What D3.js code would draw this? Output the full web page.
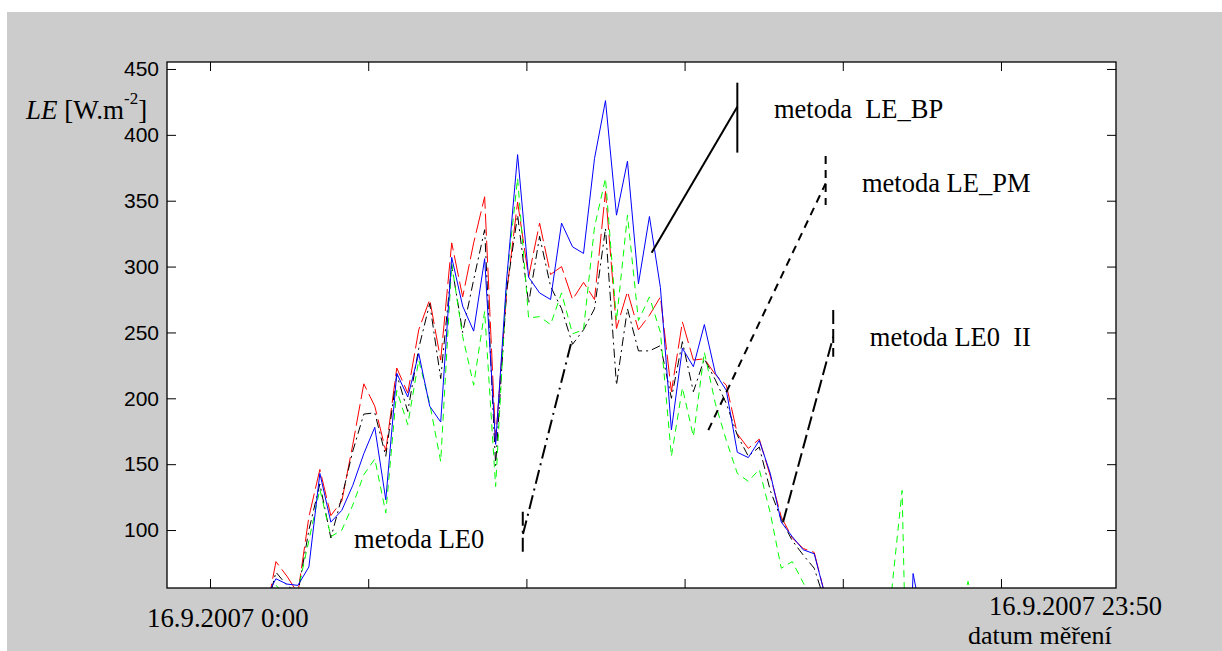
<!DOCTYPE html>
<html>
<head>
<meta charset="utf-8">
<script src="https://cdnjs.cloudflare.com/ajax/libs/d3/7.8.5/d3.min.js"></script>
<style>
  html, body { margin: 0; padding: 0; background: #fff; }
  svg { display: block; }
</style>
</head>
<body>
<div id="chart"></div>
<script>
// sample times, 16.9.2007 (20 min step)
const timeLabels = [
  "0:00","0:20","0:40","1:00","1:20","1:40","2:00","2:20","2:40","3:00","3:20","3:40",
  "4:00","4:20","4:40","5:00","5:20","5:40","6:00","6:20","6:40","7:00","7:20","7:40",
  "8:00","8:20","8:40","9:00","9:20","9:40","10:00","10:20","10:40","11:00","11:20","11:40",
  "12:00","12:20","12:40","13:00","13:20","13:40","14:00","14:20","14:40","15:00","15:20","15:40",
  "16:00","16:20","16:40","17:00","17:20","17:40","18:00","18:20","18:40","19:00","19:20","19:40",
  "20:00","20:20","20:40","21:00","21:20","21:40","22:00","22:20","22:40","23:00","23:20","23:40"
];

// LE [W.m-2] per method
const leBP = [
  30, 25, 20, 28, 35, 47, 63, 59, 58, 72, 143, 106,
  115, 134, 158, 178, 123, 219, 201, 234, 194, 182, 307, 270,
  251, 306, 165, 290, 385, 292, 280, 275, 333, 315, 310, 382,
  426, 339, 380, 287, 338, 284, 176, 238, 224, 256, 219, 206,
  159, 155, 168, 143, 106, 95, 85, 82, 50, 40, 30, 25,
  20, 15, 10, -150, 67, 24, 20, 15, 10, 10, 8, 5
];
const lePM = [
  20, 18, 15, 20, 30, 40, 58, 50, 54, 92, 131, 95,
  100, 119, 142, 154, 113, 206, 180, 229, 196, 152, 302, 247,
  210, 266, 133, 290, 367, 261, 262, 256, 280, 249, 252, 330,
  367, 259, 339, 259, 277, 250, 156, 208, 171, 235, 196, 168,
  143, 137, 146, 113, 71, 76, 60, 45, 35, 30, 25, 20,
  15, 10, 50, 130, -250, 10, 10, 15, 20, 61, 20, 15
];
const le0 = [
  18, 15, 12, 20, 28, 35, 68, 58, 52, 100, 135, 94,
  125, 160, 188, 189, 156, 218, 190, 238, 272, 215, 301, 250,
  290, 328, 149, 282, 339, 272, 323, 285, 268, 241, 252, 268,
  329, 210, 268, 236, 236, 240, 200, 243, 205, 230, 214, 196,
  172, 156, 163, 130, 108, 92, 81, 71, 45, 35, 28, 22,
  18, 15, 12, 10, 10, 12, 15, 12, 10, 8, 6, 5
];
const le0II = [
  15, 10, 12, 18, 25, 32, 76, 65, 52, 110, 146, 111,
  122, 165, 211, 194, 160, 223, 204, 252, 275, 229, 318, 277,
  318, 353, 168, 280, 349, 292, 333, 294, 300, 275, 288, 275,
  357, 253, 281, 252, 263, 277, 205, 258, 229, 230, 218, 210,
  173, 162, 169, 141, 110, 94, 86, 83, 50, 40, 30, 25,
  20, 18, 15, 12, 10, 10, 12, 15, 12, 10, 8, 5
];

const yTicks = [100, 150, 200, 250, 300, 350, 400, 450];
const xTicks = [0, 4.8, 9.6, 14.4, 19.2, 24]; // hours

// callouts: [hour, LE] from the curve to the label, plus the end bar
const callouts = [
  { text: "metoda  LE_BP", from: [13.40, 310.5], to: [16.00, 421.4], bar: [439.6, 386.5], label: [17.11, 412.8], dash: null },
  { text: "metoda LE_PM", from: [15.12, 175.9], to: [18.68, 363.2], bar: [384.0, 346.7], label: [19.78, 356.8], dash: "8,6" },
  { text: "metoda LE0  II", from: [17.39, 106.3], to: [18.91, 246.7], bar: [267.0, 231.6], label: [20.02, 239.9], dash: "14,5" },
  { text: "metoda LE0", from: [10.95, 241.2], to: [9.49, 96.2], bar: [113.9, 79.7], label: [4.37, 86.6], dash: "14,5,2,5" }
];

function makeLineChart(elementToAttachTo) {
  //#region Shared variables
  const width = 1222, height = 651;
  const plot = { left: 167, top: 62, right: 1116, bottom: 588 };
  const serif = "'Liberation Serif', 'Times New Roman', serif";
  const sans = "'Liberation Sans', Arial, Helvetica, sans-serif";
  const svg = d3.select(elementToAttachTo).append("svg")
    .attr("width", width).attr("height", height);
  //#endregion

  // grey figure background
  svg.append("rect").attr("x", 7).attr("y", 12)
    .attr("width", width - 7).attr("height", height - 12).attr("fill", "#cccccc");
  svg.append("rect").attr("x", plot.left).attr("y", plot.top)
    .attr("width", plot.right - plot.left).attr("height", plot.bottom - plot.top)
    .attr("fill", "#ffffff");

  //#region Scales
  const parseTime = d3.timeParse("%H:%M");
  const hours = timeLabels.map(s => { const t = parseTime(s); return t.getHours() + t.getMinutes() / 60; });
  const x = d3.scaleLinear().domain([-1.305, 27.49]).range([plot.left, plot.right]);
  const y = d3.scaleLinear().domain([56, 455.3]).range([plot.bottom, plot.top]);
  //#endregion

  svg.append("clipPath").attr("id", "clip").append("rect")
    .attr("x", plot.left).attr("y", plot.top)
    .attr("width", plot.right - plot.left).attr("height", plot.bottom - plot.top);

  //#region Series
  const series = [
    { values: le0II, color: "#ff0000", dash: "22,5" },
    { values: le0, color: "#000000", dash: "9,4,2,4" },
    { values: lePM, color: "#00ff00", dash: "7,5" },
    { values: leBP, color: "#0000ff", dash: null }
  ];
  const line = d3.line().x(d => x(d[0])).y(d => y(d[1]));
  const g = svg.append("g").attr("clip-path", "url(#clip)");
  series.forEach(s => {
    g.append("path")
      .datum(hours.map((h, i) => [h, s.values[i]]))
      .attr("d", line)
      .attr("fill", "none")
      .attr("stroke", s.color)
      .attr("stroke-width", 1)
      .attr("stroke-dasharray", s.dash);
  });
  //#endregion

  //#region Axes (box with inward ticks)
  const tickLen = 9;
  const axes = svg.append("g");
  axes.append("g").attr("transform", `translate(${plot.left},0)`)
    .call(d3.axisLeft(y).tickValues(yTicks).tickSizeInner(-tickLen).tickSizeOuter(0).tickPadding(8))
    .call(a => a.selectAll("text").attr("font-family", sans).attr("font-size", 21).attr("fill", "#000"));
  axes.append("g").attr("transform", `translate(${plot.right},0)`)
    .call(d3.axisRight(y).tickValues(yTicks).tickSizeInner(-tickLen).tickSizeOuter(0).tickFormat(""));
  axes.append("g").attr("transform", `translate(0,${plot.bottom})`)
    .call(d3.axisBottom(x).tickValues(xTicks).tickSizeInner(-tickLen).tickSizeOuter(0).tickFormat(""));
  axes.append("g").attr("transform", `translate(0,${plot.top})`)
    .call(d3.axisTop(x).tickValues(xTicks).tickSizeInner(-tickLen).tickSizeOuter(0).tickFormat(""));
  axes.selectAll(".domain").remove();
  axes.selectAll("line").attr("stroke", "#000");
  svg.append("rect").attr("x", plot.left).attr("y", plot.top)
    .attr("width", plot.right - plot.left).attr("height", plot.bottom - plot.top)
    .attr("fill", "none").attr("stroke", "#000").attr("stroke-width", 1.3);
  //#endregion

  //#region Callouts
  callouts.forEach(c => {
    const cg = svg.append("g").attr("stroke", "#000").attr("stroke-width", 2)
      .attr("stroke-dasharray", c.dash).attr("fill", "none");
    cg.append("line")
      .attr("x1", x(c.from[0])).attr("y1", y(c.from[1]))
      .attr("x2", x(c.to[0])).attr("y2", y(c.to[1]));
    cg.append("line")
      .attr("x1", x(c.to[0])).attr("y1", y(c.bar[0]))
      .attr("x2", x(c.to[0])).attr("y2", y(c.bar[1]));
    svg.append("text")
      .attr("x", x(c.label[0])).attr("y", y(c.label[1]))
      .attr("font-family", serif).attr("font-size", 26.5)
      .style("white-space", "pre")
      .text(c.text);
  });
  //#endregion

  //#region Labels
  const ylab = svg.append("text").attr("x", 26).attr("y", 119)
    .attr("font-family", serif).attr("font-size", 27);
  ylab.append("tspan").attr("font-style", "italic").text("LE");
  ylab.append("tspan").style("white-space", "pre").text(" [W.m");
  ylab.append("tspan").attr("font-size", 17).attr("dy", -15).text("-2");
  ylab.append("tspan").attr("dy", 15).text("]");

  svg.append("text").attr("x", 147).attr("y", 627)
    .attr("font-family", serif).attr("font-size", 26.8).text("16.9.2007 0:00");
  svg.append("text").attr("x", 989).attr("y", 615)
    .attr("font-family", serif).attr("font-size", 26.5).text("16.9.2007 23:50");
  svg.append("text").attr("x", 968).attr("y", 644)
    .attr("font-family", serif).attr("font-size", 26).text("datum měření");
  //#endregion
}

makeLineChart("#chart");
</script>
</body>
</html>
